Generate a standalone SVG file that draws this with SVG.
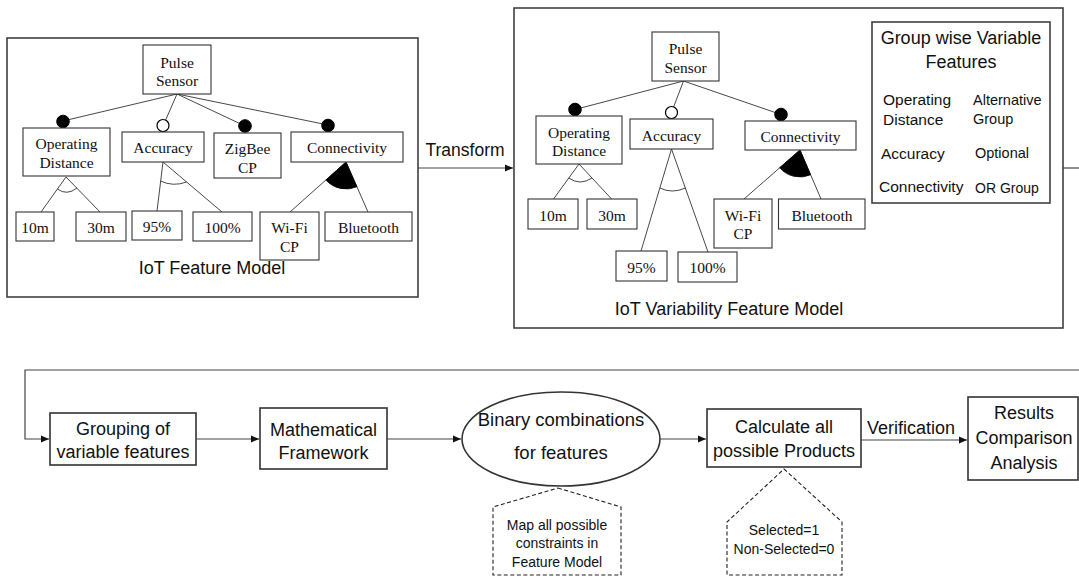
<svg xmlns="http://www.w3.org/2000/svg" width="1079" height="576" viewBox="0 0 1079 576">
<style>
.panel{fill:#fff;stroke:#404040;stroke-width:1.6}
.fn{fill:#fff;stroke:#333;stroke-width:1.1}
.fl{fill:none;stroke:#333;stroke-width:0.9}
.dot{fill:#000;stroke:#000;stroke-width:1}
.odot{fill:#fff;stroke:#000;stroke-width:1.2}
.sec{fill:#000;stroke:#000;stroke-width:0.8}
.st{font-family:"Liberation Serif","Times New Roman",serif;font-size:15.5px;fill:#111;text-anchor:middle;dominant-baseline:central}
.ss{font-family:"Liberation Sans",Arial,sans-serif;fill:#111;dominant-baseline:central}
.c{text-anchor:middle}
.box{fill:#fff;stroke:#333;stroke-width:1.6}
.dash{fill:#fff;stroke:#222;stroke-width:1.1;stroke-dasharray:4 2.5}
.con{fill:none;stroke:#444;stroke-width:1.2}
</style>
<defs>
<marker id="ah" viewBox="0 0 10 10" refX="10" refY="5" markerWidth="8" markerHeight="8" markerUnits="userSpaceOnUse" orient="auto">
<path d="M0,0.5 L10,5 L0,9.5 Z" fill="#111"/>
</marker>
</defs>

<!-- Left panel: IoT Feature Model -->
<g id="iot-feature-model">
<rect class="panel" x="7" y="38" width="411" height="259"/>
<g id="fm-tree-lines">
<line class="fl" x1="177" y1="94" x2="63" y2="121"/>
<line class="fl" x1="177" y1="94" x2="163" y2="126"/>
<line class="fl" x1="177" y1="94" x2="245" y2="126"/>
<line class="fl" x1="177" y1="94" x2="328" y2="125"/>
<line class="fl" x1="66" y1="177" x2="41" y2="212"/>
<line class="fl" x1="66" y1="177" x2="100" y2="212"/>
<path class="fl" d="M57.4,189 Q67,196 77,188"/>
<line class="fl" x1="163" y1="162" x2="157" y2="211"/>
<line class="fl" x1="163" y1="162" x2="222" y2="212"/>
<path class="fl" d="M160.6,181 Q173,187 186.6,182"/>
<line class="fl" x1="346" y1="162" x2="290" y2="212"/>
<line class="fl" x1="346" y1="162" x2="368" y2="212"/>
<path class="sec" d="M346,162 L325.9,180 A27,27 0 0,0 356.9,186.7 Z"/>
<circle class="dot" cx="63" cy="121.5" r="6.3"/>
<circle class="odot" cx="163" cy="125.5" r="6"/>
<circle class="dot" cx="245" cy="126" r="6.3"/>
<circle class="dot" cx="328" cy="125.5" r="6.3"/>
</g>
<g id="fm-pulse-sensor"><rect class="fn" x="143" y="45" width="68" height="49"/><text class="st" x="177" y="62">Pulse</text><text class="st" x="177" y="80">Sensor</text></g>
<g id="fm-operating-distance"><rect class="fn" x="23" y="128" width="87" height="48"/><text class="st" x="66.5" y="143">Operating</text><text class="st" x="66.5" y="162">Distance</text></g>
<g id="fm-accuracy"><rect class="fn" x="122" y="132" width="82" height="30"/><text class="st" x="163" y="147">Accuracy</text></g>
<g id="fm-zigbee"><rect class="fn" x="214" y="133" width="67" height="45"/><text class="st" x="247.5" y="148">ZigBee</text><text class="st" x="247.5" y="167">CP</text></g>
<g id="fm-connectivity"><rect class="fn" x="291" y="132" width="112" height="30"/><text class="st" x="347" y="147">Connectivity</text></g>
<g id="fm-10m"><rect class="fn" x="16" y="212" width="38" height="29"/><text class="st" x="35" y="227">10m</text></g>
<g id="fm-30m"><rect class="fn" x="76" y="212" width="50" height="29"/><text class="st" x="101" y="227">30m</text></g>
<g id="fm-95"><rect class="fn" x="132" y="211" width="50" height="29"/><text class="st" x="157" y="226">95%</text></g>
<g id="fm-100"><rect class="fn" x="193" y="212" width="59" height="29"/><text class="st" x="222.5" y="227">100%</text></g>
<g id="fm-wifi"><rect class="fn" x="260" y="212" width="59" height="48"/><text class="st" x="289.5" y="227">Wi-Fi</text><text class="st" x="289.5" y="246">CP</text></g>
<g id="fm-bluetooth"><rect class="fn" x="325" y="212" width="87" height="29"/><text class="st" x="368.5" y="227">Bluetooth</text></g>
<text class="ss c" x="212" y="268" font-size="18">IoT Feature Model</text>
</g>

<!-- Right panel: IoT Variability Feature Model -->
<g id="iot-variability-feature-model">
<rect class="panel" x="514" y="8" width="549" height="320"/>
<g id="vm-tree-lines">
<line class="fl" x1="683.5" y1="81" x2="575" y2="109.5"/>
<line class="fl" x1="683.5" y1="81" x2="671.5" y2="112.5"/>
<line class="fl" x1="683.5" y1="81" x2="781" y2="114.5"/>
<line class="fl" x1="579" y1="164" x2="553.5" y2="199"/>
<line class="fl" x1="579" y1="164" x2="611.6" y2="199"/>
<path class="fl" d="M568.8,178 Q580,186 592,178"/>
<line class="fl" x1="671.5" y1="149" x2="641" y2="251"/>
<line class="fl" x1="671.5" y1="149" x2="708" y2="252"/>
<path class="fl" d="M659.8,188 Q672,194 685.5,188"/>
<line class="fl" x1="800" y1="150" x2="744" y2="199"/>
<line class="fl" x1="800" y1="150" x2="821" y2="199"/>
<path class="sec" d="M800,150 L779.7,167.8 A27,27 0 0,0 810.6,174.8 Z"/>
<circle class="dot" cx="575" cy="109.5" r="6.3"/>
<circle class="odot" cx="671.5" cy="112.5" r="6"/>
<circle class="dot" cx="781" cy="114.5" r="6.3"/>
</g>
<g id="vm-pulse-sensor"><rect class="fn" x="652" y="32" width="67" height="49"/><text class="st" x="685.5" y="48">Pulse</text><text class="st" x="685.5" y="67">Sensor</text></g>
<g id="vm-operating-distance"><rect class="fn" x="536" y="116" width="86" height="48"/><text class="st" x="579" y="132">Operating</text><text class="st" x="579" y="150">Distance</text></g>
<g id="vm-accuracy"><rect class="fn" x="630" y="119" width="83" height="30"/><text class="st" x="671.5" y="135">Accuracy</text></g>
<g id="vm-connectivity"><rect class="fn" x="745" y="121" width="111" height="29"/><text class="st" x="800.5" y="136">Connectivity</text></g>
<g id="vm-10m"><rect class="fn" x="528" y="199" width="50" height="30"/><text class="st" x="553" y="215">10m</text></g>
<g id="vm-30m"><rect class="fn" x="587" y="199" width="50" height="30"/><text class="st" x="612" y="215">30m</text></g>
<g id="vm-95"><rect class="fn" x="616" y="251" width="51" height="30"/><text class="st" x="641.5" y="267">95%</text></g>
<g id="vm-100"><rect class="fn" x="678" y="252" width="59" height="30"/><text class="st" x="707.5" y="267">100%</text></g>
<g id="vm-wifi"><rect class="fn" x="714" y="199" width="58" height="49"/><text class="st" x="743" y="215">Wi-Fi</text><text class="st" x="743" y="233">CP</text></g>
<g id="vm-bluetooth"><rect class="fn" x="778.5" y="199" width="86.5" height="30"/><text class="st" x="822" y="215">Bluetooth</text></g>
<g id="legend">
<rect class="panel" x="872" y="22" width="178" height="181"/>
<text class="ss c" x="961" y="38" font-size="18">Group wise Variable</text>
<text class="ss c" x="961" y="62" font-size="18">Features</text>
<text class="ss" x="883" y="99" font-size="15.5">Operating</text>
<text class="ss" x="883" y="119" font-size="15.5">Distance</text>
<text class="ss" x="973" y="100" font-size="14.5">Alternative</text>
<text class="ss" x="973" y="119" font-size="14.5">Group</text>
<text class="ss" x="881" y="153" font-size="15.5">Accuracy</text>
<text class="ss" x="975" y="153" font-size="14.5">Optional</text>
<text class="ss" x="879" y="186" font-size="15.5">Connectivity</text>
<text class="ss" x="975" y="188" font-size="14">OR Group</text>
</g>
<text class="ss c" x="729" y="309" font-size="18">IoT Variability Feature Model</text>
</g>

<!-- Bottom flow nodes -->
<g id="grouping"><rect class="box" x="50" y="413" width="146" height="52"/><text class="ss c" x="123" y="429" font-size="18">Grouping of</text><text class="ss c" x="123" y="452" font-size="18">variable features</text></g>
<g id="math-framework"><rect class="box" x="260" y="408" width="127" height="61"/><text class="ss c" x="323.5" y="430" font-size="18">Mathematical</text><text class="ss c" x="323.5" y="453" font-size="18">Framework</text></g>
<g id="binary-combinations"><ellipse class="box" cx="561" cy="439" rx="99" ry="47"/><text class="ss c" x="561" y="419" font-size="18.5">Binary combinations</text><text class="ss c" x="561" y="452" font-size="18.5">for features</text></g>
<g id="map-constraints"><polygon class="dash" points="558,488 621,507 621,575 493,575 493,507"/><text class="ss c" x="557" y="525" font-size="14">Map all possible</text><text class="ss c" x="557" y="543" font-size="14">constraints in</text><text class="ss c" x="557" y="562" font-size="14">Feature Model</text></g>
<g id="calculate-products"><rect class="box" x="707" y="409" width="154" height="58"/><text class="ss c" x="784" y="427" font-size="18">Calculate all</text><text class="ss c" x="784" y="451" font-size="18">possible Products</text></g>
<g id="selected-note"><polygon class="dash" points="784,469 842,522 842,575 727,575 727,522"/><text class="ss c" x="784" y="530" font-size="14">Selected=1</text><text class="ss c" x="784" y="549" font-size="14">Non-Selected=0</text></g>
<g id="results"><rect class="box" x="968" y="397" width="110" height="83"/><text class="ss c" x="1024" y="413" font-size="18">Results</text><text class="ss c" x="1024" y="438" font-size="18">Comparison</text><text class="ss c" x="1024" y="463" font-size="18">Analysis</text></g>

<!-- Connectors -->
<g id="connectors">
<line class="con" x1="418" y1="168" x2="513" y2="168" marker-end="url(#ah)"/>
<text class="ss c" x="465" y="150" font-size="17.5">Transform</text>
<line class="con" x1="1063" y1="168" x2="1079" y2="168"/>
<polyline class="con" points="1079,370 25,370 25,439 49,439" marker-end="url(#ah)"/>
<line class="con" x1="196" y1="439" x2="259" y2="439" marker-end="url(#ah)"/>
<line class="con" x1="387" y1="439" x2="461" y2="439" marker-end="url(#ah)"/>
<line class="con" x1="660" y1="439" x2="706" y2="439" marker-end="url(#ah)"/>
<line class="con" x1="861" y1="440" x2="967" y2="440" marker-end="url(#ah)"/>
<text class="ss c" x="911" y="428" font-size="18">Verification</text>
</g>
</svg>
